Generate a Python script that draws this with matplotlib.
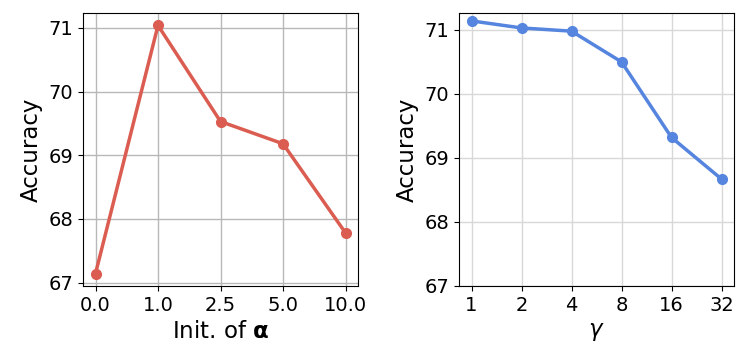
import numpy as np
import matplotlib
matplotlib.use("Agg")
import matplotlib.pyplot as plt

# left panel: init of alpha
alpha_labels = ["0.0", "1.0", "2.5", "5.0", "10.0"]
alpha_acc = [67.14, 71.04, 69.53, 69.18, 67.78]

# right panel: gamma
gamma_labels = ["1", "2", "4", "8", "16", "32"]
gamma_acc = [71.14, 71.03, 70.98, 70.50, 69.32, 68.67]

red = "#db5c50"
blue = "#5585de"

fig = plt.figure(figsize=(7.48, 3.63), dpi=100)
ax1 = fig.add_axes([83 / 748, 77 / 363, 275 / 748, 273 / 363])
ax2 = fig.add_axes([459 / 748, 77 / 363, 275 / 748, 273 / 363])

# left
ax1.plot(range(len(alpha_acc)), alpha_acc, "-o", color=red, lw=2.5, ms=7, zorder=3)
ax1.set_xticks(range(len(alpha_labels)))
ax1.set_xticklabels(alpha_labels)
ax1.set_yticks([67, 68, 69, 70, 71])
ax1.grid(True, color="#b8b8b8", lw=1)
ax1.set_xlabel(r"Init. of $\mathbf{\alpha}$", fontsize=16.5)
ax1.set_ylabel("Accuracy", fontsize=16.5)

# right
ax2.plot(range(len(gamma_acc)), gamma_acc, "-o", color=blue, lw=2.5, ms=7, zorder=3)
ax2.set_xticks(range(len(gamma_labels)))
ax2.set_xticklabels(gamma_labels)
ax2.set_yticks([67, 68, 69, 70, 71])
ax2.set_ylim(bottom=67)
ax2.grid(True, color="#d8d8d8", lw=1)
ax2.set_xlabel(r"$\gamma$", fontsize=16.5)
ax2.set_ylabel("Accuracy", fontsize=16.5)

for ax in (ax1, ax2):
    ax.tick_params(labelsize=14)
    ax.set_axisbelow(True)

fig.savefig("out.png", dpi=100)
